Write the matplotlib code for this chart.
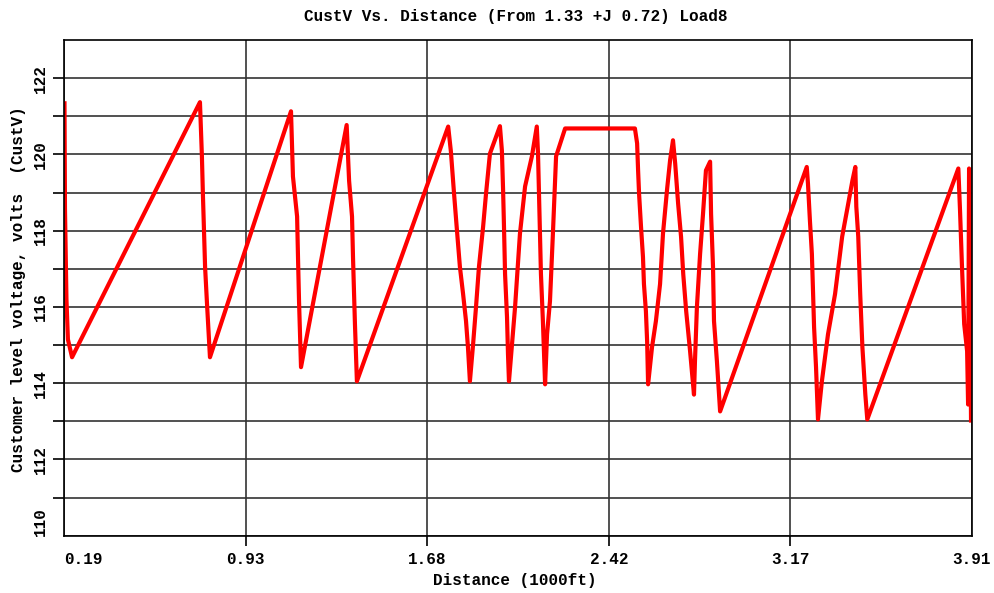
import matplotlib
matplotlib.use("Agg")
import matplotlib.pyplot as plt

# distance (1000ft) and customer voltage (V)
distance = [0.192, 0.194, 0.200, 0.206, 0.223,
            0.747, 0.755, 0.759, 0.768, 0.776, 0.788,
            1.120, 1.128, 1.145, 1.149, 1.153, 1.161,
            1.348, 1.358, 1.370, 1.374, 1.378, 1.382, 1.390,
            1.764, 1.775, 1.788, 1.800, 1.812, 1.825, 1.837, 1.845, 1.853,
            1.866, 1.878, 1.890, 1.907, 1.919, 1.935, 1.976,
            1.984, 1.989, 1.993, 1.997, 2.005, 2.009, 2.013,
            2.038, 2.058, 2.079, 2.107, 2.127,
            2.132, 2.136, 2.140, 2.144, 2.152, 2.161,
            2.169, 2.181, 2.193, 2.206, 2.243, 2.529,
            2.538, 2.542, 2.546, 2.554, 2.562, 2.566, 2.574, 2.579, 2.583,
            2.599, 2.615, 2.632, 2.644, 2.661, 2.673, 2.685,
            2.694, 2.706, 2.718, 2.727, 2.739, 2.755, 2.771,
            2.775, 2.783, 2.796, 2.808, 2.820, 2.837,
            2.841, 2.849, 2.853, 2.865, 2.878,
            3.233, 3.238, 3.246, 3.254, 3.259, 3.263, 3.271, 3.279,
            3.295, 3.320, 3.349, 3.378, 3.403, 3.420, 3.432,
            3.436, 3.444, 3.452, 3.461, 3.473, 3.481,
            3.854, 3.861, 3.869, 3.878, 3.890, 3.894, 3.898, 3.906]
voltage = [121.34, 118.58, 116.21, 115.15, 114.68,
           121.37, 119.95, 118.97, 117.05, 116.07, 114.68,
           121.13, 119.42, 118.37, 117.21, 116.13, 114.42,
           120.77, 119.31, 118.37, 117.31, 116.42, 115.55, 114.05,
           120.73, 120.08, 118.97, 118.00, 117.05, 116.34, 115.63, 114.94, 114.05,
           115.02, 116.00, 117.05, 118.10, 118.97, 120.02, 120.74,
           120.10, 119.05, 118.00, 116.86, 115.73, 114.76, 114.05,
           116.00, 117.92, 119.16, 119.95, 120.73,
           120.02, 118.97, 117.92, 116.86, 115.63, 113.97,
           115.28, 116.15, 117.92, 119.95, 120.68, 120.68,
           120.29, 119.58, 118.97, 118.10, 117.31, 116.60, 115.89, 115.10, 113.97,
           114.94, 115.63, 116.60, 117.92, 119.10, 119.84, 120.37,
           119.76, 118.71, 117.84, 116.86, 115.89, 114.84, 113.70,
           114.57, 116.00, 117.39, 118.44, 119.58, 119.81,
           118.44, 117.05, 115.63, 114.57, 113.26,
           119.67, 119.23, 118.26, 117.39, 116.34, 115.47, 114.42, 113.05,
           114.05, 115.28, 116.34, 117.84, 118.71, 119.31, 119.67,
           118.63, 117.84, 116.34, 114.94, 113.70, 113.05,
           119.63, 118.52, 117.05, 115.55, 114.84, 113.44, 119.63, 113.02]

x_ticks = [0.19, 0.934, 1.678, 2.422, 3.166, 3.91]
x_labels = ["0.19", "0.93", "1.68", "2.42", "3.17", "3.91"]
y_ticks = list(range(110, 123))
y_labels = [str(v) if v % 2 == 0 else "" for v in y_ticks]

plt.rcParams['font.family'] = ['Liberation Mono', 'DejaVu Sans Mono']
plt.rcParams['font.weight'] = 'bold'
fs = 11.5

fig = plt.figure(figsize=(9.94, 5.93), dpi=100)
ax = fig.add_axes([64 / 994, 1 - 535.7 / 593, 908 / 994, 495.7 / 593])

ax.plot(distance, voltage, color='#ff0000', lw=3.0, solid_joinstyle='round')

ax.set_xlim(0.19, 3.91)
ax.set_ylim(110, 123)
ax.set_xticks(x_ticks)
ax.set_xticklabels(x_labels, fontsize=fs, fontweight='bold')
ax.set_yticks(y_ticks)
ax.set_yticklabels(y_labels, fontsize=fs, fontweight='bold', rotation=90, va='center')

ax.grid(True, color='#333333', lw=1.2)
ax.set_axisbelow(True)
for s in ax.spines.values():
    s.set_color('black')
    s.set_linewidth(1.2)

ax.tick_params(axis='y', length=8, width=1.2, pad=3.5, colors='black')
ax.tick_params(axis='x', length=7.5, width=1.2, pad=4, colors='black')

# end ticks have no mark; edge labels nudged as in the original
xt = ax.xaxis.get_major_ticks()
xt[0].tick1line.set_visible(False)
xt[-1].tick1line.set_visible(False)
ax.get_xticklabels()[0].set_ha('left')
yt = ax.yaxis.get_major_ticks()
yt[0].tick1line.set_visible(False)
ax.get_yticklabels()[0].set_va('bottom')

fig.text(516 / 994, 1 - 17 / 593, "CustV Vs. Distance (From 1.33 +J 0.72) Load8",
         ha='center', va='center', fontsize=fs, fontweight='bold')
fig.text(515 / 994, 1 - 580 / 593, "Distance (1000ft)",
         ha='center', va='center', fontsize=fs, fontweight='bold')
fig.text(19 / 994, 1 - 289 / 593, "Customer level voltage, volts  (CustV)",
         ha='center', va='center', rotation=90, fontsize=fs, fontweight='bold')

fig.savefig("out.png", dpi=100, facecolor='white')
